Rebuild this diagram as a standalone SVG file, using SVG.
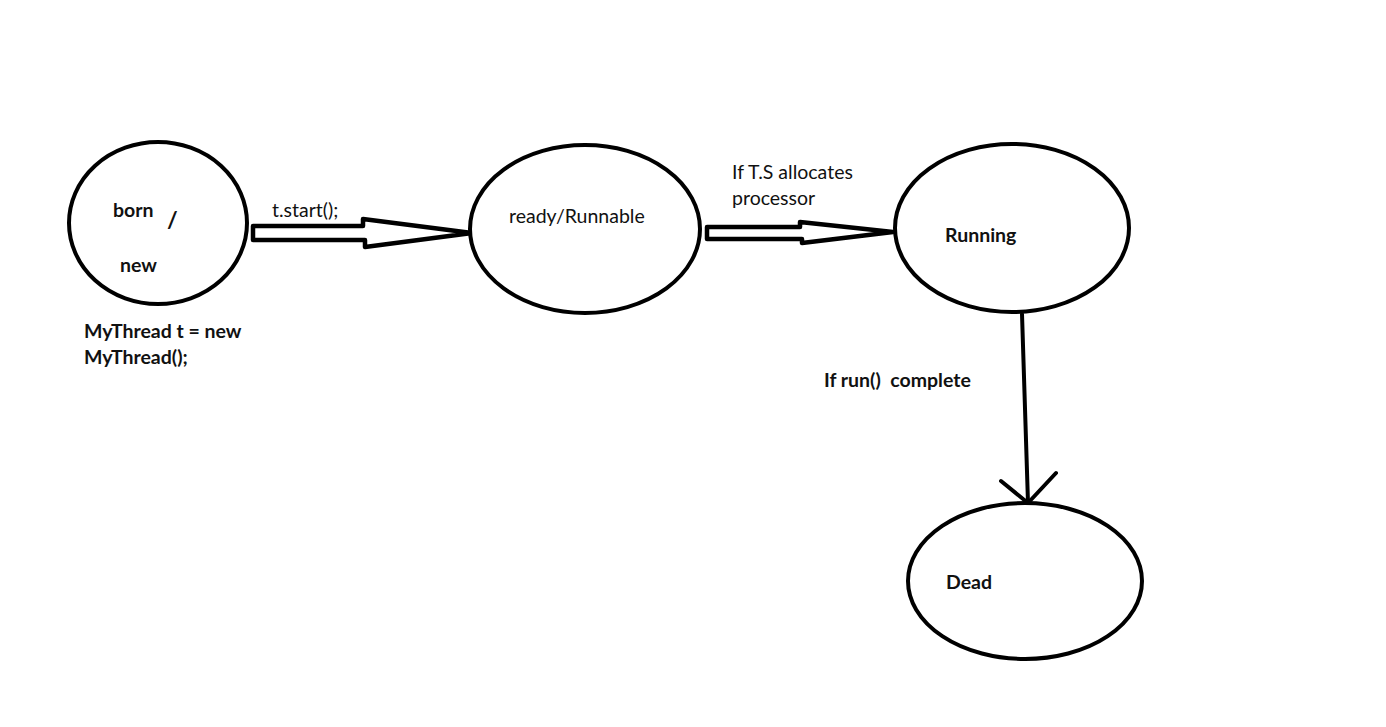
<svg xmlns="http://www.w3.org/2000/svg" width="1386" height="727" viewBox="0 0 1386 727">
<style>
.node{fill:#fff;stroke:#000;stroke-width:4}
.t{font-family:Lato,"Open Sans",sans-serif;font-size:19.5px;fill:#111;white-space:pre}
.b{font-weight:bold}
.c{fill:none;stroke:#000;stroke-width:4;stroke-linejoin:round;stroke-linecap:round}
.h{fill:#fff;stroke:#000;stroke-width:4.5;stroke-linejoin:round}
</style>
<rect width="1386" height="727" fill="#fff"/>
<g id="connectors">
<path class="h" d="M253,226 L363,226 L363,219 L472,233 L365,247 L365,240 L253,240 Z"/>
<path class="h" d="M707,227 L800,227 L800,222 L893,232 L802,243 L802,239 L707,239 Z"/>
<path class="c" d="M1022,314 L1028,503"/>
<path class="c" d="M1001,481 L1028,503 L1056,473"/>
<text class="t" x="272" y="217">t.start();</text>
<text class="t" x="732" y="179">If T.S allocates</text>
<text class="t" x="732" y="205">processor</text>
<text class="t b" x="824" y="387" xml:space="preserve">If run()  complete</text>
</g>
<g id="born">
<ellipse class="node" cx="158" cy="223" rx="89" ry="81"/>
<text class="t b" x="113" y="217">born</text>
<text class="t b" x="167" y="228" style="font-size:23px">/</text>
<text class="t b" x="120" y="272">new</text>
<text class="t b" x="84" y="338">MyThread t = new</text>
<text class="t b" x="84" y="364">MyThread();</text>
</g>
<g id="ready">
<ellipse class="node" cx="585" cy="229" rx="115" ry="84"/>
<text class="t" x="509" y="223">ready/Runnable</text>
</g>
<g id="running">
<ellipse class="node" cx="1012" cy="228" rx="117" ry="84"/>
<text class="t b" x="945" y="242">Running</text>
</g>
<g id="dead">
<ellipse class="node" cx="1025" cy="581" rx="117" ry="78"/>
<text class="t b" x="946" y="589">Dead</text>
</g>
</svg>
